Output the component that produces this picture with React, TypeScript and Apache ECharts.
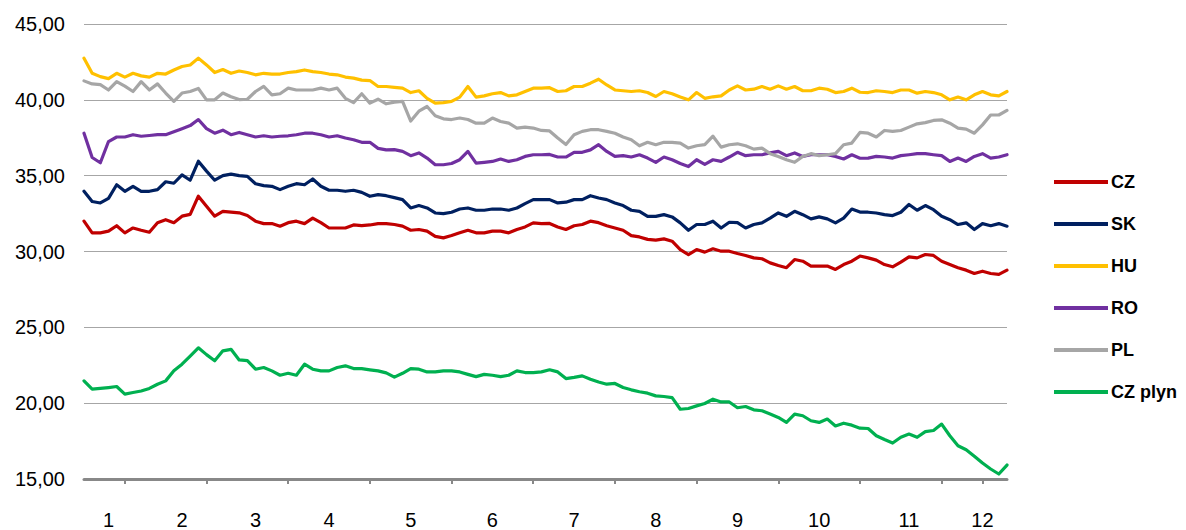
import React, { useEffect, useRef } from "react";
import * as echarts from "echarts";

// x positions: 114 observations; month labels and tick marks at given observation indices
const monthLabels = ["1", "2", "3", "4", "5", "6", "7", "8", "9", "10", "11", "12"];
const monthLabelIdx = [3, 12, 21, 30, 40, 50, 60, 70, 80, 90, 101, 110];
const tickIdx = [5, 15, 25, 35, 45, 55, 65, 75, 85, 95, 105, 110];

const yTicks = { min: 15, max: 45, interval: 5 };

const seriesNames = ["CZ", "SK", "HU", "RO", "PL", "CZ plyn"];
const seriesColors = ["#c00000", "#002060", "#ffc000", "#7030a0", "#a6a6a6", "#00b050"];

const CZ = [
  32.0, 31.23, 31.23, 31.34, 31.7, 31.23, 31.55, 31.4, 31.27, 31.9,
  32.1, 31.9, 32.33, 32.45, 33.65, 32.98, 32.33, 32.65, 32.6, 32.55,
  32.37, 32.0, 31.84, 31.84, 31.67, 31.9, 32.0, 31.84, 32.2, 31.9,
  31.55, 31.55, 31.55, 31.75, 31.7, 31.75, 31.84, 31.84, 31.78, 31.67,
  31.4, 31.45, 31.34, 31.0, 30.9, 31.05, 31.23, 31.4, 31.23, 31.23,
  31.34, 31.34, 31.23, 31.45, 31.62, 31.89, 31.84, 31.85, 31.62, 31.45,
  31.7, 31.78, 32.0, 31.9, 31.7, 31.55, 31.4, 31.05, 30.96, 30.8,
  30.75, 30.83, 30.68, 30.13, 29.8, 30.13, 29.96, 30.18, 30.02, 30.02,
  29.87, 29.74, 29.58, 29.52, 29.25, 29.08, 28.93, 29.47, 29.36, 29.04,
  29.04, 29.04, 28.82, 29.14, 29.36, 29.7, 29.58, 29.43, 29.14, 28.99,
  29.3, 29.65, 29.58, 29.8, 29.74, 29.36, 29.14, 28.93, 28.77, 28.55,
  28.7, 28.55, 28.49, 28.77,
];

const SK = [
  33.97, 33.3, 33.2, 33.5, 34.4, 33.97, 34.3, 33.97, 33.97, 34.08,
  34.6, 34.5, 35.05, 34.7, 35.95, 35.3, 34.7, 35.0, 35.1, 35.0,
  34.95, 34.47, 34.34, 34.3, 34.08, 34.3, 34.47, 34.4, 34.78, 34.3,
  34.04, 34.04, 33.97, 34.04, 33.9, 33.64, 33.75, 33.68, 33.55, 33.42,
  32.87, 33.03, 32.87, 32.54, 32.5, 32.59, 32.8, 32.87, 32.72, 32.72,
  32.8, 32.8, 32.72, 32.87, 33.16, 33.42, 33.42, 33.42, 33.2, 33.25,
  33.42, 33.42, 33.68, 33.53, 33.42, 33.2, 33.03, 32.72, 32.65, 32.32,
  32.32, 32.43, 32.28, 31.89, 31.4, 31.78, 31.78, 32.0, 31.55, 31.93,
  31.9, 31.55, 31.78, 31.89, 32.2, 32.54, 32.32, 32.65, 32.43, 32.15,
  32.28, 32.15, 31.89, 32.2, 32.8, 32.6, 32.59, 32.54, 32.43, 32.37,
  32.59, 33.1, 32.72, 33.03, 32.76, 32.32, 32.1, 31.78, 31.89, 31.45,
  31.84, 31.7, 31.84, 31.67,
];

const HU = [
  42.74, 41.75, 41.53, 41.4, 41.75, 41.5, 41.75, 41.58, 41.5, 41.75,
  41.7, 41.97, 42.2, 42.3, 42.75, 42.3, 41.8, 42.0, 41.75, 41.9,
  41.8, 41.65, 41.75, 41.7, 41.7, 41.8, 41.86, 41.97, 41.86, 41.8,
  41.7, 41.65, 41.5, 41.43, 41.3, 41.27, 40.88, 40.88, 40.82, 40.77,
  40.48, 40.6, 40.1, 39.78, 39.82, 39.9, 40.18, 40.88, 40.18, 40.26,
  40.4, 40.48, 40.26, 40.33, 40.55, 40.77, 40.77, 40.8, 40.55, 40.6,
  40.88, 40.88, 41.1, 41.36, 40.98, 40.65, 40.6, 40.55, 40.6, 40.48,
  40.22, 40.55, 40.4, 40.18, 40.0, 40.48, 40.1, 40.2, 40.26, 40.65,
  40.92, 40.65, 40.7, 40.88, 40.7, 40.92, 40.7, 40.88, 40.6, 40.6,
  40.77, 40.7, 40.48, 40.55, 40.77, 40.5, 40.48, 40.6, 40.55, 40.48,
  40.65, 40.65, 40.44, 40.55, 40.48, 40.33, 40.0, 40.18, 40.0, 40.33,
  40.55, 40.33, 40.26, 40.55,
];

const RO = [
  37.8, 36.2, 35.85, 37.25, 37.55, 37.55, 37.7, 37.6, 37.65, 37.7,
  37.7, 37.9, 38.1, 38.3, 38.7, 38.1, 37.8, 38.0, 37.7, 37.85,
  37.7, 37.55, 37.63, 37.55, 37.6, 37.63, 37.7, 37.8, 37.8, 37.7,
  37.55, 37.63, 37.48, 37.37, 37.2, 37.2, 36.8, 36.7, 36.72, 36.6,
  36.32, 36.5, 36.16, 35.72, 35.72, 35.8, 36.05, 36.6, 35.83, 35.88,
  35.94, 36.1, 35.94, 36.05, 36.27, 36.38, 36.38, 36.4, 36.23, 36.23,
  36.54, 36.54, 36.7, 37.04, 36.6, 36.27, 36.32, 36.23, 36.38, 36.16,
  35.88, 36.23, 36.05, 35.8, 35.6, 36.05, 35.75, 36.05, 35.94, 36.23,
  36.54, 36.32, 36.38, 36.38, 36.5, 36.6, 36.32, 36.5, 36.27, 36.38,
  36.38, 36.38, 36.27, 36.1, 36.38, 36.15, 36.16, 36.27, 36.23, 36.16,
  36.32, 36.38, 36.45, 36.45, 36.38, 36.32, 35.94, 36.16, 35.94, 36.27,
  36.45, 36.16, 36.23, 36.38,
];

const PL = [
  41.25, 41.05, 41.0, 40.65, 41.2, 40.9, 40.55, 41.2, 40.65, 41.05,
  40.45, 39.9, 40.45, 40.55, 40.75, 40.0, 40.0, 40.45, 40.2, 40.02,
  40.04, 40.55, 40.88, 40.33, 40.4, 40.77, 40.65, 40.65, 40.65, 40.77,
  40.65, 40.77, 40.1, 39.82, 40.4, 39.78, 40.04, 39.74, 39.85, 39.9,
  38.6, 39.25, 39.56, 38.95, 38.75, 38.7, 38.8, 38.7, 38.46, 38.46,
  38.8, 38.57, 38.46, 38.14, 38.2, 38.14, 37.98, 37.95, 37.48, 37.05,
  37.7, 37.92, 38.03, 38.03, 37.92, 37.8, 37.55, 37.37, 36.97, 37.2,
  37.04, 37.2, 37.2, 37.15, 36.82, 36.97, 37.05, 37.6, 36.88, 37.04,
  37.1, 36.97, 36.75, 36.82, 36.45, 36.27, 36.05, 35.88, 36.27, 36.45,
  36.32, 36.38, 36.45, 37.04, 37.15, 37.85, 37.8, 37.55, 37.98, 37.92,
  37.98, 38.2, 38.42, 38.5, 38.64, 38.68, 38.46, 38.14, 38.07, 37.8,
  38.35, 39.0, 39.0, 39.3,
];

const CZplyn = [
  21.47, 20.92, 20.97, 21.03, 21.1, 20.6, 20.7, 20.8, 20.97, 21.25,
  21.47, 22.13, 22.57, 23.1, 23.65, 23.2, 22.8, 23.45, 23.55, 22.85,
  22.8, 22.24, 22.35, 22.13, 21.84, 21.97, 21.84, 22.57, 22.24, 22.13,
  22.13, 22.35, 22.46, 22.28, 22.28, 22.2, 22.13, 22.0, 21.72, 21.97,
  22.28, 22.24, 22.06, 22.06, 22.13, 22.13, 22.06, 21.9, 21.75, 21.9,
  21.84, 21.75, 21.84, 22.13, 22.02, 22.02, 22.06, 22.2, 22.06, 21.62,
  21.7, 21.8, 21.58, 21.4, 21.25, 21.3, 21.03, 20.88, 20.75, 20.66,
  20.48, 20.44, 20.37, 19.6, 19.65, 19.82, 19.98, 20.26, 20.08, 20.08,
  19.7, 19.78, 19.56, 19.5, 19.28, 19.06, 18.73, 19.28, 19.17, 18.84,
  18.73, 18.95, 18.5, 18.68, 18.55, 18.35, 18.33, 17.85, 17.6, 17.37,
  17.75, 17.96, 17.75, 18.12, 18.2, 18.62, 17.85, 17.19, 16.93, 16.5,
  16.05, 15.66, 15.33, 15.92,
];

const seriesData = [CZ, SK, HU, RO, PL, CZplyn];

const FONT = "'Liberation Sans', Arial, sans-serif";

export default function App() {
  const ref = useRef<HTMLDivElement>(null);

  useEffect(() => {
    if (!ref.current) return;
    const chart = echarts.init(ref.current, undefined, { renderer: "svg" });

    const n = CZ.length;
    const categories: string[] = [];
    for (let i = 0; i < n; i++) {
      const k = monthLabelIdx.indexOf(i);
      categories.push(k >= 0 ? monthLabels[k] : "");
    }

    chart.setOption({
      animation: false,
      backgroundColor: "#ffffff",
      grid: { left: 84, right: 179, top: 24, bottom: 50, containLabel: false },
      legend: {
        orient: "vertical",
        left: 1049,
        top: 167,
        itemWidth: 54,
        itemHeight: 4,
        itemGap: 22,
        icon: "rect",
        data: seriesNames,
        textStyle: {
          fontFamily: FONT,
          fontSize: 18,
          fontWeight: "bold",
          color: "#000000",
          lineHeight: 20,
          padding: [0, 0, 0, -2],
        },
      },
      xAxis: {
        type: "category",
        boundaryGap: false,
        data: categories,
        axisLine: { show: true, lineStyle: { color: "#888888", width: 3 } },
        axisTick: {
          show: true,
          length: 5,
          interval: (idx: number) => tickIdx.indexOf(idx) >= 0,
          lineStyle: { color: "#888888", width: 2 },
        },
        axisLabel: {
          interval: (idx: number) => monthLabelIdx.indexOf(idx) >= 0,
          margin: 31,
          fontFamily: FONT,
          fontSize: 20,
          color: "#000000",
        },
        splitLine: { show: false },
      },
      yAxis: {
        type: "value",
        min: yTicks.min,
        max: yTicks.max,
        interval: yTicks.interval,
        axisLine: { show: false },
        axisTick: { show: false },
        axisLabel: {
          margin: 19,
          fontFamily: FONT,
          fontSize: 20,
          color: "#000000",
          formatter: (v: number) => v.toFixed(2).replace(".", ","),
        },
        splitLine: { show: true, lineStyle: { color: "#a6a6a6", width: 1 } },
      },
      series: seriesNames.map((name, i) => ({
        name,
        type: "line",
        data: seriesData[i],
        showSymbol: false,
        symbol: "none",
        smooth: false,
        color: seriesColors[i],
        lineStyle: { color: seriesColors[i], width: 3.2, cap: "round", join: "round" },
        emphasis: { disabled: true },
      })),
    });

    return () => chart.dispose();
  }, []);

  return (
    <div
      ref={ref}
      style={{ position: "fixed", left: 0, top: 0, width: 1186, height: 530, background: "#fff" }}
    />
  );
}
